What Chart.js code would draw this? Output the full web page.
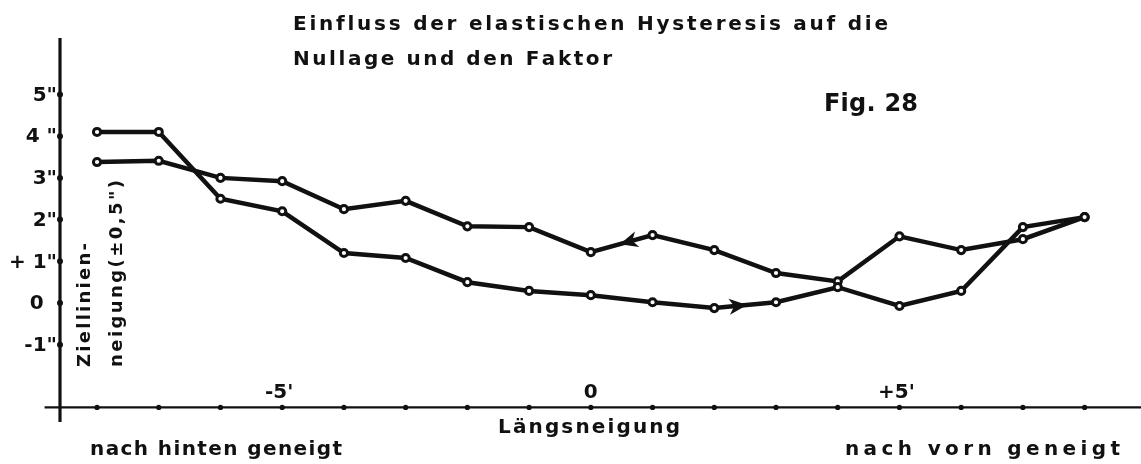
<!DOCTYPE html>
<html>
<head>
<meta charset="utf-8">
<script src="https://cdn.jsdelivr.net/npm/chart.js@4"></script>
<style>
  html, body { margin: 0; padding: 0; background: #fff; }
  #wrap { width: 1141px; height: 464px; position: relative; }
</style>
</head>
<body>
<div id="wrap"><canvas id="chart" width="1141" height="464"></canvas></div>
<script>
// Längsneigung in minutes
const xValues = [-8, -7, -6, -5, -4, -3, -2, -1, 0, 1, 2, 3, 4, 5, 6, 7, 8];
// Ziellinienneigung in seconds, going from back-tilt to front-tilt (arrow ->)
const forwardValues = [4.1, 4.1, 2.5, 2.2, 1.2, 1.08, 0.5, 0.29, 0.19, 0.02, -0.12, 0.02, 0.38, -0.07, 0.29, 1.82, 2.06];
// and the way back (arrow <-)
const returnValues = [3.38, 3.41, 3.0, 2.92, 2.25, 2.45, 1.84, 1.82, 1.22, 1.63, 1.27, 0.72, 0.52, 1.6, 1.27, 1.53, 2.06];

const yTickValues = [5, 4, 3, 2, 1, 0, -1];
const yTickLabels = ['5"', '4 "', '3"', '2"', '+ 1"', '0', '-1"'];
const xTickValues = [-8, -7, -6, -5, -4, -3, -2, -1, 0, 1, 2, 3, 4, 5, 6, 7, 8];
const xLabelValues = [-5, 0, 5];
const xLabelTexts = ["-5'", '0', "+5'"];

const titleLines = ['Einfluss der elastischen Hysteresis auf die', 'Nullage und den Faktor'];
const figLabel = 'Fig. 28';
const yTitleLines = ['Ziellinien-', 'neigung(±0,5")'];
const xTitle = 'Längsneigung';
const leftNote = 'nach hinten geneigt';
const rightNote = 'nach vorn geneigt';

const INK = '#111';
const FONT = '"DejaVu Sans", "Liberation Sans", sans-serif';

// draws text letter by letter so it fills the given width
const spaced = (ctx, text, x, y, width) => {
  const chars = [...text];
  const total = chars.reduce((s, c) => s + ctx.measureText(c).width, 0);
  const gap = chars.length > 1 ? (width - total) / (chars.length - 1) : 0;
  let cx = x;
  chars.forEach((c) => {
    ctx.fillText(c, cx, y);
    cx += ctx.measureText(c).width + gap;
  });
};

const arrowOn = (ctx, xs, ys, i, t, dir) => {
  // arrow head on segment i -> i+1 at fraction t, pointing along dir (+1 right, -1 left)
  const x0 = xs.getPixelForValue(xValues[i]);
  const x1 = xs.getPixelForValue(xValues[i + 1]);
  const series = dir > 0 ? forwardValues : returnValues;
  const y0 = ys.getPixelForValue(series[i]);
  const y1 = ys.getPixelForValue(series[i + 1]);
  const px = x0 + (x1 - x0) * t;
  const py = y0 + (y1 - y0) * t;
  let ang = Math.atan2(y1 - y0, x1 - x0);
  if (dir < 0) ang += Math.PI;
  ctx.save();
  ctx.translate(px, py);
  ctx.rotate(ang);
  ctx.fillStyle = INK;
  ctx.beginPath();
  ctx.moveTo(2, 0);
  ctx.lineTo(-16, -8);
  ctx.lineTo(-11, 0);
  ctx.lineTo(-16, 8);
  ctx.closePath();
  ctx.fill();
  ctx.restore();
};

const paperPlugin = {
  id: 'paper',
  beforeDatasetsDraw(chart) {
    const { ctx, scales: { x, y } } = chart;
    const axisX = x.getPixelForValue(-8.6);
    const axisY = y.getPixelForValue(-2.5);
    ctx.save();
    ctx.strokeStyle = INK;
    ctx.fillStyle = INK;
    // y axis
    ctx.lineWidth = 3.2;
    ctx.beginPath();
    ctx.moveTo(axisX, y.getPixelForValue(6.35));
    ctx.lineTo(axisX, y.getPixelForValue(-2.85));
    ctx.stroke();
    // x axis
    ctx.lineWidth = 2.4;
    ctx.beginPath();
    ctx.moveTo(x.getPixelForValue(-8.85), axisY);
    ctx.lineTo(chart.width, axisY);
    ctx.stroke();
    // tick dots
    yTickValues.forEach((v) => {
      ctx.beginPath();
      ctx.arc(axisX, y.getPixelForValue(v), 3, 0, Math.PI * 2);
      ctx.fill();
    });
    xTickValues.forEach((v) => {
      ctx.beginPath();
      ctx.arc(x.getPixelForValue(v), axisY, 2.6, 0, Math.PI * 2);
      ctx.fill();
    });
    // y tick labels
    ctx.font = `bold 20px ${FONT}`;
    ctx.textBaseline = 'middle';
    ctx.textAlign = 'right';
    const qw = ctx.measureText('"').width;
    yTickLabels.forEach((lab, i) => {
      const pad = lab.includes('"') ? 0 : qw + 3;
      ctx.fillText(lab, axisX - 3 - pad, y.getPixelForValue(yTickValues[i]) + 1);
    });
    // x tick labels, above the axis
    ctx.textAlign = 'center';
    ctx.textBaseline = 'alphabetic';
    ctx.font = `bold 20px ${FONT}`;
    xLabelTexts.forEach((lab, i) => {
      const off = lab === '0' ? 0 : -3;
      ctx.fillText(lab, x.getPixelForValue(xLabelValues[i]) + off, axisY - 9);
    });
    ctx.restore();
  },
  afterDatasetsDraw(chart) {
    const { ctx, scales: { x, y } } = chart;
    arrowOn(ctx, x, y, 8, 0.5, -1);
    arrowOn(ctx, x, y, 10, 0.5, 1);
  },
  afterDraw(chart) {
    const { ctx } = chart;
    ctx.save();
    ctx.fillStyle = INK;
    ctx.textAlign = 'left';
    ctx.textBaseline = 'alphabetic';
    ctx.font = `bold 20px ${FONT}`;
    spaced(ctx, titleLines[0], 293, 30, 595);
    spaced(ctx, titleLines[1], 293, 65, 319);
    ctx.font = `bold 24px ${FONT}`;
    spaced(ctx, figLabel, 824, 111, 94);
    ctx.font = `bold 20px ${FONT}`;
    spaced(ctx, xTitle, 498, 433, 182);
    spaced(ctx, leftNote, 90, 455, 252);
    spaced(ctx, rightNote, 845, 455, 275);
    // rotated y title
    ctx.font = `bold 18px ${FONT}`;
    ctx.textBaseline = 'middle';
    ctx.save();
    ctx.translate(85, 367);
    ctx.rotate(-Math.PI / 2);
    spaced(ctx, yTitleLines[0], 0, 0, 124);
    ctx.restore();
    ctx.save();
    ctx.translate(117, 367);
    ctx.rotate(-Math.PI / 2);
    spaced(ctx, yTitleLines[1], 0, 0, 187);
    ctx.restore();
    ctx.restore();
  }
};

const makeSet = (label, values) => ({
  label,
  data: xValues.map((xv, i) => ({ x: xv, y: values[i] })),
  borderColor: INK,
  borderWidth: 4.5,
  tension: 0,
  pointRadius: 3.6,
  pointBorderWidth: 3,
  pointBackgroundColor: '#fff',
  pointBorderColor: INK,
  fill: false,
  clip: false
});

const ctx = document.getElementById('chart').getContext('2d');
new Chart(ctx, {
  type: 'line',
  data: {
    datasets: [
      makeSet('Hinweg', forwardValues),
      makeSet('Rückweg', returnValues)
    ]
  },
  options: {
    responsive: false,
    animation: false,
    layout: { padding: { left: 60, right: 1, top: 36, bottom: 42 } },
    plugins: { legend: { display: false }, tooltip: { enabled: false }, title: { display: false } },
    scales: {
      x: { type: 'linear', min: -8.6, max: 8.8, display: false },
      y: { type: 'linear', min: -2.85, max: 6.4, display: false }
    }
  },
  plugins: [paperPlugin]
});
</script>
</body>
</html>
